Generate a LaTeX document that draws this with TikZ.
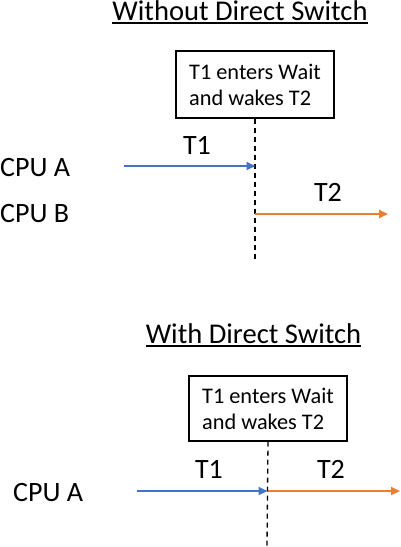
\documentclass[tikz,border=0pt]{standalone}
\usepackage{fontspec}
\setmainfont{Carlito}
\usetikzlibrary{arrows.meta}
\definecolor{oblue}{HTML}{4472C4}
\definecolor{oorange}{HTML}{ED7D31}
\begin{document}
\begin{tikzpicture}[x=1pt,y=-1pt,
  ttl/.style={inner sep=0pt,anchor=base,font=\fontsize{28.6}{34}\selectfont},
  lbl/.style={inner sep=0pt,anchor=base,font=\fontsize{28}{34}\selectfont},
  evbox/.style={draw,line width=1.3pt,minimum width=158pt,align=left,inner sep=0pt,font=\fontsize{22.3}{26}\selectfont},
  sep/.style={dashed,line width=1.3pt,dash pattern=on 5pt off 4pt},
  arr/.style={line width=2pt,-{Triangle[length=9pt,width=8pt]}},
  ul/.style={line width=1.8pt}]
\fill[white] (0,0) rectangle (400,547);
\useasboundingbox (0,0) rectangle (400,547);
% top panel
\node[ttl] (t1) at (240,20.5) {Without Direct Switch};
\draw[ul] ([yshift=-2.6pt]t1.base west) -- ([yshift=-2.6pt]t1.base east);
\node[evbox,minimum height=67pt] (b1) at (255,84.5) {T1 enters Wait\\and wakes T2};
\coordinate (d1) at (255,262);
\draw[sep] (b1.south) -- (d1);
\node[lbl,anchor=base west] (ca1) at (0,176) {CPU A};
\node[lbl,anchor=base west] (cb1) at (0,222) {CPU B};
\coordinate (a1s) at (124,166);
\coordinate (a1e) at (255.5,166);
\coordinate (a2s) at (255,214);
\coordinate (a2e) at (388,214);
\draw[arr,oblue] (a1s) -- (a1e);
\draw[arr,oorange] (a2s) -- (a2e);
\node[lbl] (l1) at (197,154) {T1};
\node[lbl] (l2) at (328,201) {T2};
% bottom panel
\node[ttl] (t2) at (253.5,343) {With Direct Switch};
\draw[ul] ([yshift=-2.6pt]t2.base west) -- ([yshift=-2.6pt]t2.base east);
\node[evbox,minimum height=65pt] (b2) at (268,408.5) {T1 enters Wait\\and wakes T2};
\coordinate (d2) at (267,547);
\draw[sep] (b2.south) -- (d2);
\node[lbl,anchor=base west] (ca2) at (13,501) {CPU A};
\coordinate (a3s) at (137,491);
\coordinate (a3e) at (267.5,491);
\coordinate (a4e) at (400,491);
\draw[arr,oblue] (a3s) -- (a3e);
\draw[arr,oorange] (a3e) -- (a4e);
\node[lbl] (l3) at (209,478) {T1};
\node[lbl] (l4) at (331,478) {T2};
\end{tikzpicture}
\end{document}
